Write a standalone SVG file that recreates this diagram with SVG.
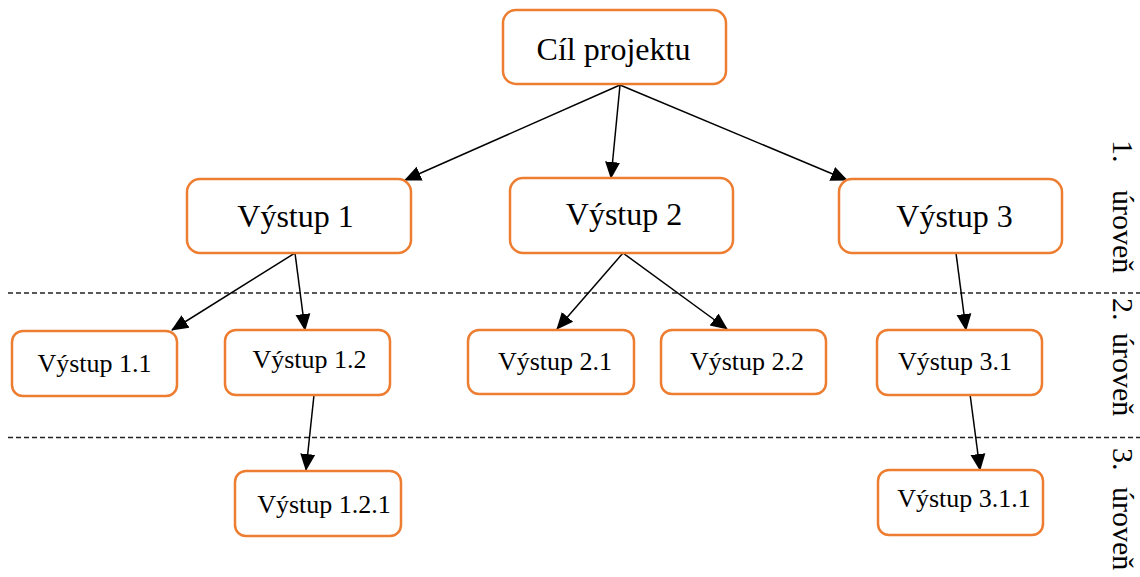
<svg xmlns="http://www.w3.org/2000/svg" width="1140" height="577" viewBox="0 0 1140 577">
<style>
.box{fill:#fff;stroke:#ED7D31;stroke-width:2.5}
.t1{font-family:"Liberation Serif","Times New Roman",serif;font-size:32px;fill:#000;text-anchor:middle}
.t2{font-family:"Liberation Serif","Times New Roman",serif;font-size:26px;fill:#000;text-anchor:middle}
.lv{font-family:"Liberation Serif","Times New Roman",serif;font-size:30px;fill:#000}
.dash{stroke:#222;stroke-width:1.3;stroke-dasharray:5 3;fill:none}
.conn{stroke:#000;stroke-width:1.5;fill:none;marker-end:url(#arr)}
</style>
<defs>
<marker id="arr" markerUnits="userSpaceOnUse" markerWidth="17" markerHeight="17" viewBox="0 0 17 17" refX="16" refY="8.5" orient="auto">
<path d="M0,1 L17,8.5 L0,16 Z" fill="#000"/>
</marker>
</defs>
<g id="levels">
<line class="dash" x1="8" y1="293" x2="1140" y2="293"/>
<line class="dash" x1="8" y1="437.5" x2="1140" y2="437.5"/>
<text class="lv" transform="translate(1113,140) rotate(90)">1.</text>
<text class="lv" transform="translate(1113,190) rotate(90)">úroveň</text>
<text class="lv" transform="translate(1113,298) rotate(90)">2.</text>
<text class="lv" transform="translate(1113,333) rotate(90)">úroveň</text>
<text class="lv" transform="translate(1113,448) rotate(90)">3.</text>
<text class="lv" transform="translate(1113,487) rotate(90)">úroveň</text>
</g>
<g id="connectors">
<line class="conn" x1="620" y1="85" x2="405" y2="180"/>
<line class="conn" x1="620" y1="85" x2="611" y2="178"/>
<line class="conn" x1="620" y1="85" x2="847" y2="180"/>
<line class="conn" x1="295" y1="253" x2="172" y2="330"/>
<line class="conn" x1="295" y1="253" x2="305" y2="330"/>
<line class="conn" x1="623" y1="253" x2="557" y2="329"/>
<line class="conn" x1="623" y1="253" x2="727" y2="329"/>
<line class="conn" x1="956" y1="253" x2="966" y2="330"/>
<line class="conn" x1="314" y1="395" x2="306" y2="470"/>
<line class="conn" x1="970" y1="394" x2="980" y2="470"/>
</g>
<g id="n-cil"><rect class="box" x="503" y="10" width="223" height="74" rx="13"/><text class="t1" x="613.5" y="60">Cíl projektu</text></g>
<g id="n-v1"><rect class="box" x="187" y="179" width="224" height="74" rx="13"/><text class="t1" x="295.5" y="227">Výstup 1</text></g>
<g id="n-v2"><rect class="box" x="510" y="178" width="223" height="75" rx="13"/><text class="t1" x="624" y="225">Výstup 2</text></g>
<g id="n-v3"><rect class="box" x="839" y="179" width="223" height="74" rx="13"/><text class="t1" x="954.5" y="227">Výstup 3</text></g>
<g id="n-v11"><rect class="box" x="12" y="331" width="165" height="65" rx="11"/><text class="t2" x="94.5" y="372">Výstup 1.1</text></g>
<g id="n-v12"><rect class="box" x="225" y="330" width="165" height="65" rx="11"/><text class="t2" x="309.5" y="368">Výstup 1.2</text></g>
<g id="n-v121"><rect class="box" x="235" y="471" width="166" height="65" rx="11"/><text class="t2" x="324" y="513">Výstup 1.2.1</text></g>
<g id="n-v21"><rect class="box" x="468" y="330" width="166" height="64" rx="11"/><text class="t2" x="555" y="370">Výstup 2.1</text></g>
<g id="n-v22"><rect class="box" x="661" y="330" width="165" height="64" rx="11"/><text class="t2" x="747" y="370">Výstup 2.2</text></g>
<g id="n-v31"><rect class="box" x="877" y="330" width="165" height="65" rx="11"/><text class="t2" x="955" y="370">Výstup 3.1</text></g>
<g id="n-v311"><rect class="box" x="878" y="470" width="165" height="65" rx="11"/><text class="t2" x="964" y="507">Výstup 3.1.1</text></g>
</svg>
